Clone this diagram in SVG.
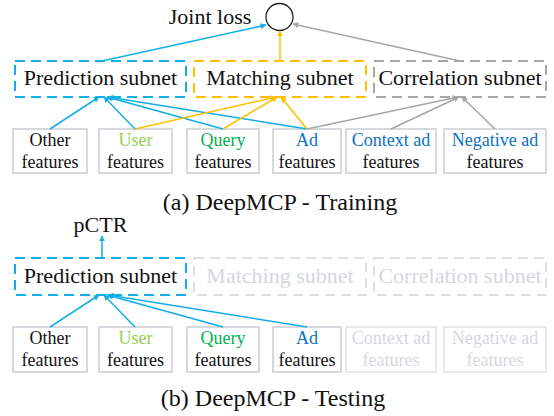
<svg xmlns="http://www.w3.org/2000/svg" width="554" height="416" viewBox="0 0 554 416">
<defs>
<marker id="ab" viewBox="0 0 10 10" refX="9" refY="5" markerWidth="6" markerHeight="6" orient="auto" markerUnits="userSpaceOnUse"><path d="M0,0 L10,5 L0,10 z" fill="#12aee8"/></marker>
<marker id="ay" viewBox="0 0 10 10" refX="9" refY="5" markerWidth="6" markerHeight="6" orient="auto" markerUnits="userSpaceOnUse"><path d="M0,0 L10,5 L0,10 z" fill="#ffbf00"/></marker>
<marker id="ag" viewBox="0 0 10 10" refX="9" refY="5" markerWidth="6" markerHeight="6" orient="auto" markerUnits="userSpaceOnUse"><path d="M0,0 L10,5 L0,10 z" fill="#a6a6a6"/></marker>
</defs>
<style>
text{font-family:"Liberation Serif","Times New Roman",serif;text-anchor:middle;fill:#111}
.big{font-size:22px}
.cap{font-size:24px}
.ft{font-size:18px}
.sub{fill:none;stroke-width:2;stroke-dasharray:10,6}
.pb{stroke:#12aee8}
.my{stroke:#ffbf00}
.cg{stroke:#a6a6a6}
.fd{stroke:#dcdfe4}
.fdt{fill:#d4d8dd}
.fbox{fill:#fff;stroke:#c9cdd2;stroke-width:1.5}
.fboxf{fill:#fff;stroke:#e0e3e7;stroke-width:1.5}
.cb{stroke:#12aee8;stroke-width:1.5;fill:none;marker-end:url(#ab)}
.cy{stroke:#ffbf00;stroke-width:1.5;fill:none;marker-end:url(#ay)}
.cgl{stroke:#a6a6a6;stroke-width:1.5;fill:none;marker-end:url(#ag)}
.green1{fill:#92d050}
.green2{fill:#00b050}
.blue{fill:#0a72c4}
.faded{fill:#d4d8dd}
</style>

<!-- Part (a) -->
<g id="joint-loss">
<text class="big" x="210" y="24">Joint loss</text>
<circle cx="279.5" cy="17" r="13.5" fill="#fff" stroke="#222" stroke-width="1.3"/>
</g>
<g id="prediction-a">
<rect class="sub pb" x="15" y="61" width="171" height="36"/>
<text class="big" x="100.5" y="85">Prediction subnet</text>
</g>
<g id="matching-a">
<rect class="sub my" x="194" y="61" width="172" height="36"/>
<text class="big" x="280" y="85">Matching subnet</text>
</g>
<g id="correlation-a">
<rect class="sub cg" x="374" y="61" width="172" height="36"/>
<text class="big" x="460" y="85">Correlation subnet</text>
</g>
<g id="other-a">
<rect class="fbox" x="13" y="129" width="74" height="44"/>
<text class="ft" x="50" y="146">Other</text><text class="ft" x="50" y="168">features</text>
</g>
<g id="user-a">
<rect class="fbox" x="99" y="129" width="73" height="44"/>
<text class="ft green1" x="135.5" y="146">User</text><text class="ft" x="135.5" y="168">features</text>
</g>
<g id="query-a">
<rect class="fbox" x="187" y="129" width="72" height="44"/>
<text class="ft green2" x="223" y="146">Query</text><text class="ft" x="223" y="168">features</text>
</g>
<g id="ad-a">
<rect class="fbox" x="273" y="129" width="68" height="44"/>
<text class="ft blue" x="307" y="146">Ad</text><text class="ft" x="307" y="168">features</text>
</g>
<g id="context-a">
<rect class="fbox" x="346" y="129" width="90" height="44"/>
<text class="ft blue" x="391" y="146">Context ad</text><text class="ft" x="391" y="168">features</text>
</g>
<g id="negative-a">
<rect class="fbox" x="444" y="129" width="102" height="44"/>
<text class="ft blue" x="495" y="146">Negative ad</text><text class="ft" x="495" y="168">features</text>
</g>
<g id="connectors-a">
<line class="cb" x1="102" y1="61" x2="266" y2="25"/>
<line class="cy" x1="280" y1="61" x2="280" y2="31"/>
<line class="cgl" x1="460" y1="61" x2="293" y2="24"/>
<line class="cb" x1="50" y1="129" x2="99" y2="97"/>
<line class="cb" x1="135" y1="129" x2="104" y2="97"/>
<line class="cb" x1="223" y1="129" x2="107" y2="97"/>
<line class="cb" x1="307" y1="129" x2="108" y2="97"/>
<line class="cy" x1="135" y1="129" x2="276" y2="97"/>
<line class="cy" x1="223" y1="129" x2="277" y2="97"/>
<line class="cy" x1="307" y1="129" x2="281" y2="97"/>
<line class="cgl" x1="307" y1="129" x2="458" y2="97"/>
<line class="cgl" x1="391" y1="129" x2="459" y2="97"/>
<line class="cgl" x1="495" y1="129" x2="462" y2="97"/>
</g>
<text class="cap" x="280" y="210">(a) DeepMCP - Training</text>

<!-- Part (b) -->
<g id="pctr">
<text class="big" x="100.5" y="232">pCTR</text>
</g>
<g id="prediction-b">
<rect class="sub pb" x="15" y="258" width="171" height="37"/>
<text class="big" x="100.5" y="283">Prediction subnet</text>
</g>
<g id="matching-b">
<rect class="sub fd" x="194" y="258" width="172" height="37"/>
<text class="big faded" x="280" y="283">Matching subnet</text>
</g>
<g id="correlation-b">
<rect class="sub fd" x="374" y="258" width="172" height="37"/>
<text class="big faded" x="460" y="283">Correlation subnet</text>
</g>
<g id="other-b">
<rect class="fbox" x="13" y="327" width="74" height="45"/>
<text class="ft" x="50" y="344">Other</text><text class="ft" x="50" y="366">features</text>
</g>
<g id="user-b">
<rect class="fbox" x="99" y="327" width="73" height="45"/>
<text class="ft green1" x="135.5" y="344">User</text><text class="ft" x="135.5" y="366">features</text>
</g>
<g id="query-b">
<rect class="fbox" x="187" y="327" width="72" height="45"/>
<text class="ft green2" x="223" y="344">Query</text><text class="ft" x="223" y="366">features</text>
</g>
<g id="ad-b">
<rect class="fbox" x="273" y="327" width="68" height="45"/>
<text class="ft blue" x="307" y="344">Ad</text><text class="ft" x="307" y="366">features</text>
</g>
<g id="context-b">
<rect class="fboxf" x="346" y="327" width="90" height="45"/>
<text class="ft faded" x="391" y="344">Context ad</text><text class="ft faded" x="391" y="366">features</text>
</g>
<g id="negative-b">
<rect class="fboxf" x="444" y="327" width="102" height="45"/>
<text class="ft faded" x="495" y="344">Negative ad</text><text class="ft faded" x="495" y="366">features</text>
</g>
<g id="connectors-b">
<line class="cb" x1="102" y1="258" x2="102" y2="236"/>
<line class="cb" x1="50" y1="327" x2="99" y2="295"/>
<line class="cb" x1="135" y1="327" x2="104" y2="295"/>
<line class="cb" x1="223" y1="327" x2="107" y2="295"/>
<line class="cb" x1="307" y1="327" x2="108" y2="295"/>
</g>
<text class="cap" x="273" y="406">(b) DeepMCP - Testing</text>
</svg>
